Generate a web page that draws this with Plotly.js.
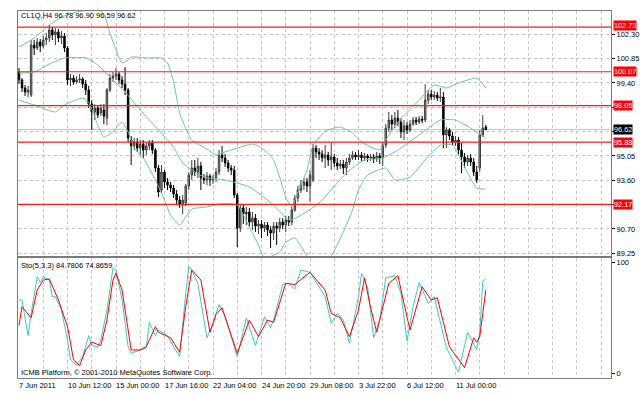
<!DOCTYPE html>
<html><head><meta charset="utf-8">
<script src="https://cdn.plot.ly/plotly-3.0.1.min.js"></script>
<style>html,body{margin:0;padding:0;background:#fff;}#chart{width:644px;height:396px;}</style>
</head><body><div id="chart"></div>
<script>
const symbolTitle = 'CL1Q,H4 96.78 96.90 96.59 96.62';
const stoTitle = 'Sto(5,3,3) 84.7806 74.8659';
const footerText = 'ICMB Platform, \u00a9 2001-2010 MetaQuotes Software Corp.';

const opens = [100.05,99.58,99.10,98.86,98.68,101.66,101.48,101.84,101.60,101.96,102.08,102.56,102.26,102.44,102.08,102.20,101.48,99.58,99.69,99.46,99.58,99.64,99.34,98.98,98.14,97.67,97.91,97.61,97.79,97.31,98.98,99.69,99.81,99.93,99.58,99.34,98.98,96.00,95.64,95.88,95.52,95.76,95.40,95.64,95.82,95.40,94.33,93.02,94.09,93.50,93.32,93.14,92.78,92.42,92.13,92.25,93.26,93.91,94.33,94.09,94.45,93.74,93.62,93.85,93.62,93.74,94.09,95.11,94.93,94.63,94.33,94.21,92.72,90.75,91.95,91.59,91.71,91.11,91.35,90.87,90.99,90.75,90.93,90.64,90.46,90.87,90.75,91.11,90.93,91.23,91.11,91.83,92.54,93.02,93.32,93.50,93.26,93.62,95.52,95.29,95.17,94.93,95.11,94.81,94.99,94.63,94.45,94.57,94.33,94.69,94.93,95.11,94.99,95.11,94.93,95.05,94.93,94.99,94.87,95.05,94.93,95.70,96.71,97.19,96.95,97.31,97.07,96.48,96.85,96.60,96.95,97.19,97.07,97.25,97.19,98.38,98.74,98.56,98.68,98.50,98.56,96.30,96.60,96.24,95.88,96.00,95.40,94.99,94.69,94.93,94.69,94.09,94.33,96.30,96.78];
const highs = [100.29,99.69,99.28,99.22,101.96,101.96,102.08,102.02,102.20,102.38,102.85,102.73,102.67,102.62,102.50,102.38,101.60,99.93,99.87,99.81,99.93,99.75,99.58,99.22,98.38,98.14,98.09,98.14,98.14,99.10,99.93,100.05,100.29,100.05,99.81,100.35,99.10,96.24,96.12,96.12,96.00,96.00,95.82,96.00,96.00,95.52,94.51,94.51,94.21,93.74,93.50,93.32,93.02,92.66,92.72,93.38,94.09,94.81,94.81,94.93,94.69,93.97,94.09,93.97,93.91,94.33,95.40,95.64,95.17,94.81,94.51,94.45,92.84,92.19,92.13,92.01,91.95,91.71,91.59,91.23,91.23,91.11,91.11,90.87,91.11,91.11,91.35,91.35,91.47,91.47,92.01,92.72,93.26,93.62,93.74,93.74,94.21,95.76,95.70,95.52,95.40,95.70,95.29,95.82,95.17,94.93,94.81,94.81,94.93,95.17,95.34,95.29,95.40,95.29,95.23,95.17,95.17,95.17,95.29,95.23,95.88,96.95,97.67,97.49,97.67,97.79,97.31,97.19,97.07,97.19,97.37,97.37,97.43,97.43,99.34,98.98,98.98,98.92,98.86,99.10,98.86,96.77,96.71,96.48,96.24,96.18,95.82,95.23,95.11,95.17,94.93,94.45,96.60,97.49,96.90];
const lows = [99.34,98.86,98.62,98.56,98.56,101.07,101.36,101.24,101.48,101.66,101.84,101.96,101.66,101.84,101.72,101.24,99.28,99.22,99.28,99.34,99.40,99.10,98.68,97.91,96.60,97.19,97.31,97.43,96.95,96.89,98.86,99.46,99.58,99.34,99.10,98.68,95.88,94.51,95.40,95.29,95.11,94.93,95.11,95.40,95.17,94.09,92.60,92.84,93.14,93.02,92.90,92.54,92.13,91.95,91.59,92.07,93.02,93.62,93.85,93.74,93.02,93.38,93.32,93.26,93.38,93.50,93.91,94.69,94.39,94.09,93.91,92.54,89.62,90.52,90.99,90.93,90.87,90.64,90.52,90.40,90.16,90.52,90.28,89.56,90.04,89.74,90.52,90.69,90.52,90.87,90.93,91.71,92.30,92.84,93.02,92.90,92.30,93.50,94.93,94.81,94.69,94.33,94.45,94.21,94.39,94.21,94.27,93.97,93.91,94.51,94.81,94.81,94.81,94.69,94.75,94.69,94.75,94.63,94.69,94.57,94.45,95.52,96.48,96.60,96.71,96.85,96.12,96.00,96.36,96.48,96.85,96.89,96.95,97.01,97.07,98.14,98.38,98.38,98.32,98.26,95.52,95.52,96.00,95.70,95.64,95.11,94.03,94.33,94.45,94.45,93.85,93.44,94.09,96.18,96.59];
const closes = [99.58,99.10,98.86,98.98,101.66,101.48,101.84,101.60,101.96,102.08,102.56,102.26,102.44,102.08,102.20,101.48,99.58,99.69,99.46,99.58,99.64,99.34,98.98,98.14,97.67,97.91,97.49,97.91,97.43,98.98,99.69,99.81,99.93,99.58,99.34,98.98,96.12,95.64,95.88,95.52,95.76,95.40,95.64,95.82,95.40,94.33,92.90,94.09,93.50,93.32,93.14,92.78,92.42,92.13,92.42,93.26,93.91,94.33,94.09,94.45,93.74,93.62,93.85,93.62,93.74,94.09,95.11,94.93,94.63,94.33,94.21,92.72,90.75,91.95,91.59,91.71,91.11,91.35,90.87,90.99,90.75,90.93,90.64,90.46,90.87,90.75,91.11,90.93,91.23,91.11,91.83,92.54,93.02,93.32,93.50,93.26,93.91,95.52,95.29,95.17,94.93,95.11,94.81,94.99,94.63,94.45,94.57,94.33,94.69,94.93,95.11,94.99,95.11,94.93,95.05,94.93,94.99,94.87,95.05,94.93,95.70,96.71,97.19,96.95,97.31,97.07,96.48,96.85,96.60,96.95,97.19,97.07,97.25,97.19,98.38,98.74,98.56,98.68,98.50,98.56,96.30,96.60,96.24,95.88,96.00,95.40,94.99,94.69,94.93,94.69,94.09,93.62,96.30,96.71,96.62];

const upperBandBars = [0,4,7,10,14,19,23,26,28,30,32,34,36,37,42,47,49,51,53,55,57,62,65,67,72,77,79,82,84,86,88,90,91,95,97,99,101,106,110,113,119,121,125,132,137,141,145,151,154];
const upperBand = [101.54,101.96,102.38,102.85,103.33,103.63,103.75,103.81,103.51,102.38,101.36,100.59,100.77,100.95,100.89,100.89,100.59,99.46,97.61,96.71,96.00,95.46,95.11,95.23,95.52,95.76,95.64,95.23,94.81,93.79,92.60,92.01,92.42,94.21,95.70,96.12,96.54,96.77,96.42,95.88,95.40,96.00,97.07,98.38,99.28,99.10,99.40,99.69,99.10];
const midBandBars = [0,5,10,15,22,26,31,35,40,46,51,54,61,68,76,84,89,92,99,108,114,120,125,132,139,144,149,154];
const midBand = [99.99,100.05,100.53,100.89,100.89,100.47,99.58,98.86,97.79,96.60,95.58,94.63,93.79,93.62,93.20,92.13,91.23,91.41,92.25,94.03,94.81,94.93,95.40,96.30,97.19,97.19,96.71,96.12];
const lowerBandBars = [0,5,12,15,21,23,26,28,31,34,36,38,41,45,48,50,53,55,57,62,66,72,76,79,81,86,88,91,93,96,102,107,110,112,115,121,124,129,134,139,143,147,151,154];
const lowerBand = [98.38,98.09,97.67,98.09,98.50,98.26,96.89,96.18,96.48,97.07,96.48,95.52,94.93,93.62,92.42,91.53,90.93,91.41,91.89,92.01,92.19,92.13,90.81,89.74,88.97,89.32,89.92,90.16,89.68,88.85,88.85,90.52,91.83,93.02,93.91,94.33,93.62,93.79,94.81,95.70,95.70,94.39,93.14,93.08];

const stoMainBars = [0,1,3,4,6,7,8,10,11,12,14,16,17,19,21,23,24,26,27,29,31,32,34,36,37,40,42,43,45,46,49,51,53,55,56,57,59,62,64,66,68,72,75,78,81,83,84,87,89,91,93,96,98,101,103,105,107,109,112,113,115,117,119,121,124,126,128,130,132,135,137,141,143,145,148,151,152,153,154];
const stoMain = [66,66,34,54,87,82,87,84,69,69,57,30,12,7,15,34,25,24,30,57,95,93,66,24,18,21,23,46,34,39,34,24,15,72,96,93,81,32,45,62,51,15,50,25,51,41,48,80,81,76,93,91,82,69,45,54,48,27,69,90,78,32,48,86,88,72,29,60,82,63,69,23,12,1,37,21,37,83,84.78];
const stoSignalBars = [0,1,4,6,8,10,13,16,18,20,22,24,27,29,31,32,34,37,40,42,45,46,50,53,55,57,60,63,65,67,72,76,79,82,84,88,91,96,101,103,106,109,112,114,116,118,122,125,127,129,133,136,138,142,147,150,151,152,153,154];
const stoSignal = [43,60,50,75,84,85,66,42,12,7,21,28,25,48,84,90,75,21,21,24,42,37,32,19,60,93,84,37,53,59,18,48,33,48,46,81,80,91,75,54,50,33,57,86,59,37,81,88,63,39,78,66,68,24,5,32,28,33,54,74.87];

const timeLabelBars = [0,16,32,48,64,80,96,112,128,144];
const timeLabels = ['7 Jun 2011','10 Jun 12:00','15 Jun 00:00','17 Jun 16:00','22 Jun 04:00','24 Jun 20:00','29 Jun 08:00','3 Jul 22:00','6 Jul 12:00','11 Jul 00:00'];
const priceTicks = [89.25,90.70,92.15,93.60,95.05,96.50,97.95,99.40,100.85,102.30];
const priceTickText = ['89.25','90.70','','93.60','95.05','','','99.40','100.85','102.30'];
const levelLines = [102.73,100.07,98.05,95.88,92.17];
const lastPrice = 96.62;
const stoTicks = [0,100];

const barIdx = closes.map((_, i) => i);
const FONT = {family: 'Liberation Sans, Arial, sans-serif', size: 7.5, color: '#000'};
const BAND = '#66cc8c';

const traces = [
  {type:'scatter', mode:'lines', x: upperBandBars, y: upperBand, line:{color:BAND, width:1, shape:'spline', smoothing:0.5}, xaxis:'x', yaxis:'y', hoverinfo:'skip'},
  {type:'scatter', mode:'lines', x: midBandBars, y: midBand, line:{color:BAND, width:1, shape:'spline', smoothing:0.5}, xaxis:'x', yaxis:'y', hoverinfo:'skip'},
  {type:'scatter', mode:'lines', x: lowerBandBars, y: lowerBand, line:{color:BAND, width:1, shape:'spline', smoothing:0.5}, xaxis:'x', yaxis:'y', hoverinfo:'skip'},
  {type:'candlestick', x: barIdx, open: opens, high: highs, low: lows, close: closes, xaxis:'x', yaxis:'y',
    increasing:{line:{color:'#3c3c3c', width:1}, fillcolor:'#9a9a9a'},
    decreasing:{line:{color:'#000000', width:1}, fillcolor:'#000000'}, whiskerwidth:0},
  {type:'scatter', mode:'lines', x: stoMainBars, y: stoMain, line:{color:'#3ec9c0', width:1}, xaxis:'x2', yaxis:'y2', hoverinfo:'skip'},
  {type:'scatter', mode:'lines', x: stoSignalBars, y: stoSignal, line:{color:'#ff0000', width:1}, xaxis:'x2', yaxis:'y2', hoverinfo:'skip'}
];

const xRange = [-0.33, 195.3];
const gridX = {showgrid:true, gridcolor:'#c4c4c4', griddash:'dot', gridwidth:1, tickmode:'linear', tick0:0, dtick:8,
  showticklabels:false, ticks:'', zeroline:false, showline:true, mirror:true, linecolor:'#7a7a7a', linewidth:1, range:xRange,
  rangeslider:{visible:false}, fixedrange:true};

const shapes = [];
shapes.push({type:'line', xref:'paper', x0:0, x1:1, yref:'y', y0:lastPrice, y1:lastPrice, line:{color:'#c0c0c0', width:1}, layer:'below'});
levelLines.forEach(v => shapes.push({type:'line', xref:'paper', x0:0, x1:1, yref:'y', y0:v, y1:v, line:{color:'#ff1a1a', width:1.2}, layer:'above'}));

const annotations = [];
levelLines.forEach(v => annotations.push({xref:'paper', x:1, xanchor:'left', xshift:2, yref:'y', y:v, yanchor:'middle',
  yshift: (v === 102.73 ? 1.5 : 0),
  text:v.toFixed(2), showarrow:false, bgcolor:'#ff0000', borderpad:0, font:{family:FONT.family, size:7.3, color:'#ffffff'}}));
annotations.push({xref:'paper', x:1, xanchor:'left', xshift:2, yref:'y', y:lastPrice, yanchor:'middle',
  text:lastPrice.toFixed(2), showarrow:false, bgcolor:'#000000', borderpad:0, font:{family:FONT.family, size:7.3, color:'#ffffff'}});
annotations.push({xref:'paper', x:0, xanchor:'left', xshift:1, yref:'paper', y:0.9864, yanchor:'middle', text:symbolTitle, showarrow:false, font:FONT});
annotations.push({xref:'paper', x:0, xanchor:'left', xshift:1, yref:'paper', y:0.3079, yanchor:'middle', text:stoTitle, showarrow:false, font:FONT});
annotations.push({xref:'paper', x:0, xanchor:'left', xshift:1, yref:'paper', y:0.0163, yanchor:'middle', text:footerText, showarrow:false, font:FONT});
timeLabelBars.forEach((b, k) => annotations.push({xref:'x2', x:b, xanchor:'left', xshift:-2, yref:'paper', y:0, yanchor:'top', yshift:-1,
  text:timeLabels[k], showarrow:false, font:FONT}));

const layout = {
  width:644, height:396,
  margin:{l:18, r:33, t:11, b:18, pad:0},
  paper_bgcolor:'#ffffff', plot_bgcolor:'#ffffff',
  showlegend:false, font:FONT,
  xaxis: Object.assign({}, gridX, {anchor:'y'}),
  xaxis2: Object.assign({}, gridX, {anchor:'y2', matches:'x'}),
  yaxis: {domain:[0.3324,1], side:'right', range:[89.088,103.689], tickmode:'array', tickvals:priceTicks, ticktext:priceTickText,
    showgrid:true, gridcolor:'#c4c4c4', griddash:'dot', ticks:'outside', ticklen:3, tickcolor:'#000', zeroline:false,
    showline:true, mirror:true, linecolor:'#7a7a7a', linewidth:1, tickfont:FONT, fixedrange:true},
  yaxis2: {domain:[0,0.327], side:'right', range:[-4.23,103.87], tickmode:'array', tickvals:stoTicks, ticktext:['0','100'],
    showgrid:false, ticks:'outside', ticklen:3, tickcolor:'#000', zeroline:false,
    showline:true, mirror:true, linecolor:'#7a7a7a', linewidth:1, tickfont:FONT, fixedrange:true},
  shapes: shapes,
  annotations: annotations
};

Plotly.newPlot('chart', traces, layout, {displayModeBar:false, staticPlot:true});
</script>
</body></html>
